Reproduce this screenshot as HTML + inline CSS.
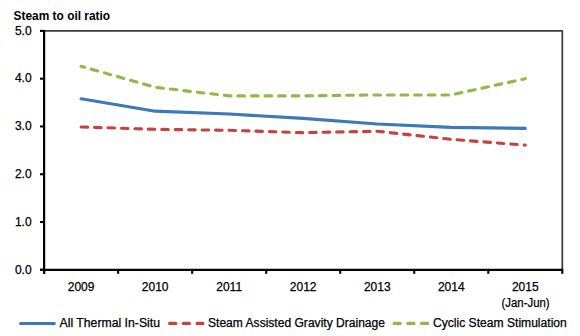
<!DOCTYPE html>
<html><head><meta charset="utf-8"><style>
html,body{margin:0;padding:0;background:#fff;width:580px;height:336px;overflow:hidden}
svg{display:block}
.t{font-family:"Liberation Sans",sans-serif;font-size:12px;fill:#000;stroke:#000;stroke-width:0.25px}
.b{font-family:"Liberation Sans",sans-serif;font-size:12.6px;font-weight:bold;fill:#000}
</style></head><body>
<svg width="580" height="336" viewBox="0 0 580 336">
<text x="13.60" y="19.50" textLength="96.50" lengthAdjust="spacingAndGlyphs" class="b">Steam to oil ratio</text>

<path d="M44.10,30.90 L562.30,30.90 L562.30,269.80" fill="none" stroke="#3c3c3c" stroke-width="1.75" stroke-linejoin="round"/>
<line x1="44.10" y1="30.00" x2="44.10" y2="273.8" stroke="#000" stroke-width="2.2"/>
<line x1="40" y1="269.80" x2="563.20" y2="269.80" stroke="#000" stroke-width="2.2"/>

<line x1="40" y1="269.80" x2="44.10" y2="269.80" stroke="#000" stroke-width="2.1"/><text x="31.60" y="273.50" text-anchor="end" class="t">0.0</text><line x1="40" y1="222.02" x2="44.10" y2="222.02" stroke="#000" stroke-width="2.1"/><text x="31.60" y="225.72" text-anchor="end" class="t">1.0</text><line x1="40" y1="174.24" x2="44.10" y2="174.24" stroke="#000" stroke-width="2.1"/><text x="31.60" y="177.94" text-anchor="end" class="t">2.0</text><line x1="40" y1="126.46" x2="44.10" y2="126.46" stroke="#000" stroke-width="2.1"/><text x="31.60" y="130.16" text-anchor="end" class="t">3.0</text><line x1="40" y1="78.68" x2="44.10" y2="78.68" stroke="#000" stroke-width="2.1"/><text x="31.60" y="82.38" text-anchor="end" class="t">4.0</text><line x1="40" y1="30.90" x2="44.10" y2="30.90" stroke="#000" stroke-width="2.1"/><text x="31.60" y="34.60" text-anchor="end" class="t">5.0</text><line x1="44.10" y1="269.80" x2="44.10" y2="273.8" stroke="#000" stroke-width="2.1"/><line x1="118.13" y1="269.80" x2="118.13" y2="273.8" stroke="#000" stroke-width="2.1"/><line x1="192.16" y1="269.80" x2="192.16" y2="273.8" stroke="#000" stroke-width="2.1"/><line x1="266.19" y1="269.80" x2="266.19" y2="273.8" stroke="#000" stroke-width="2.1"/><line x1="340.21" y1="269.80" x2="340.21" y2="273.8" stroke="#000" stroke-width="2.1"/><line x1="414.24" y1="269.80" x2="414.24" y2="273.8" stroke="#000" stroke-width="2.1"/><line x1="488.27" y1="269.80" x2="488.27" y2="273.8" stroke="#000" stroke-width="2.1"/><line x1="562.30" y1="269.80" x2="562.30" y2="273.8" stroke="#000" stroke-width="2.1"/><text x="81.11" y="290.60" text-anchor="middle" class="t">2009</text><text x="155.14" y="290.60" text-anchor="middle" class="t">2010</text><text x="229.17" y="290.60" text-anchor="middle" class="t">2011</text><text x="303.20" y="290.60" text-anchor="middle" class="t">2012</text><text x="377.23" y="290.60" text-anchor="middle" class="t">2013</text><text x="451.26" y="290.60" text-anchor="middle" class="t">2014</text><text x="525.29" y="290.60" text-anchor="middle" class="t">2015</text><text x="525.59" y="307.00" text-anchor="middle" textLength="48.00" lengthAdjust="spacingAndGlyphs" class="t">(Jan-Jun)</text>

<polyline points="81.11,98.75 155.14,111.17 229.17,114.04 303.20,118.34 377.23,124.07 451.26,127.42 525.29,128.37" fill="none" stroke="#3F78B9" stroke-width="3.1" stroke-linejoin="round" stroke-linecap="round"/>
<polyline points="81.11,126.94 155.14,129.33 229.17,130.28 303.20,132.67 377.23,131.24 451.26,139.36 525.29,145.09" fill="none" stroke="#C5423F" stroke-width="3.1" stroke-linejoin="round" stroke-linecap="round" stroke-dasharray="6.5 6.95" stroke-dashoffset="0"/>
<polyline points="81.11,66.26 155.14,87.28 229.17,95.88 303.20,95.88 377.23,94.93 451.26,94.93 525.29,78.68" fill="none" stroke="#8FBA47" stroke-width="3.1" stroke-linejoin="round" stroke-linecap="round" stroke-dasharray="6.6 7.0" stroke-dashoffset="3"/>


<line x1="20.6" y1="323.5" x2="54.3" y2="323.5" stroke="#3F78B9" stroke-width="3.1" stroke-linecap="round"/>
<line x1="169.6" y1="323.4" x2="203" y2="323.4" stroke="#C5423F" stroke-width="3.1" stroke-linecap="round" stroke-dasharray="6.2 7.5"/>
<line x1="394.1" y1="323.4" x2="428" y2="323.4" stroke="#8FBA47" stroke-width="3.1" stroke-linecap="round" stroke-dasharray="6.2 7.5"/>
<text x="59.50" y="327.00" textLength="100.50" lengthAdjust="spacingAndGlyphs" class="t">All Thermal In-Situ</text><text x="208.00" y="327.00" textLength="177.00" lengthAdjust="spacingAndGlyphs" class="t">Steam Assisted Gravity Drainage</text><text x="433.00" y="327.00" textLength="133.80" lengthAdjust="spacingAndGlyphs" class="t">Cyclic Steam Stimulation</text>
</svg>
</body></html>
